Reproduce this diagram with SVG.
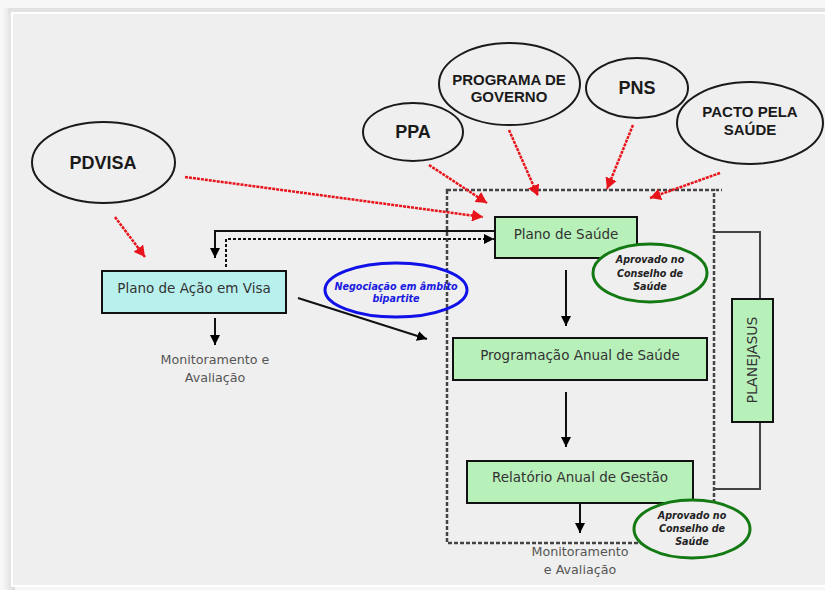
<svg xmlns="http://www.w3.org/2000/svg" width="825" height="590" viewBox="0 0 825 590">
<defs>
<marker id="ab" markerUnits="userSpaceOnUse" markerWidth="11" markerHeight="11" refX="10" refY="5" orient="auto"><path d="M0,0 L10,5 L0,10 z" fill="#000"/></marker>
<marker id="ar" markerUnits="userSpaceOnUse" markerWidth="12" markerHeight="12" refX="11" refY="6" orient="auto"><path d="M0,0 L11,6 L0,12 z" fill="#e8141b"/></marker>
<linearGradient id="sh" x1="0" y1="0" x2="1" y2="0"><stop offset="0" stop-color="#f6f6f6"/><stop offset="1" stop-color="#d8d8d8"/></linearGradient>
</defs>
<style>
.ell{fill:#efefef;stroke:#1a1a1a;stroke-width:2}
.et{font-family:"Liberation Sans",Arial,sans-serif;font-weight:bold;fill:#1a1a1a;text-anchor:middle}
.gbox{fill:#b8f0ba;stroke:#111;stroke-width:2}
.cbox{fill:#b8f0ee;stroke:#111;stroke-width:2}
.bt{font-family:"DejaVu Sans",Verdana,sans-serif;font-size:13.5px;fill:#333;text-anchor:middle}
.mt{font-family:"DejaVu Sans",Verdana,sans-serif;font-size:12.7px;fill:#555;text-anchor:middle}
.apr{fill:#efefef;stroke:#137a13;stroke-width:3}
.at{font-family:"DejaVu Sans",Verdana,sans-serif;font-size:9.6px;font-weight:bold;font-style:italic;fill:#222;text-anchor:middle}
.red{fill:none;stroke:#e8141b;stroke-width:2.5;stroke-dasharray:3 1;marker-end:url(#ar)}
.blk{fill:none;stroke:#111;stroke-width:2;marker-end:url(#ab)}
.gl{fill:none;stroke:#444;stroke-width:2}
</style>
<rect x="0" y="0" width="825" height="590" fill="#f7f7f7"/>
<rect x="3" y="8" width="12" height="582" fill="url(#sh)"/>
<rect x="8" y="8" width="830" height="6" fill="#e2e2e2"/>
<rect x="12" y="13" width="820" height="573" fill="#efefef" stroke="#ffffff" stroke-width="2"/>

<g id="dashed-frame">
<rect x="447" y="190" width="267" height="353" fill="none" stroke="#444" stroke-width="2.5" stroke-dasharray="4 2"/>
<line x1="716" y1="190" x2="722" y2="190" stroke="#444" stroke-width="2.5" stroke-dasharray="3 2"/>
</g>

<g id="connectors">
<line class="red" x1="115" y1="217" x2="145" y2="257"/>
<line class="red" x1="185" y1="177" x2="483" y2="217"/>
<line class="red" x1="429" y1="165" x2="487" y2="203"/>
<line class="red" x1="509" y1="130" x2="538" y2="196"/>
<line class="red" x1="633" y1="125" x2="607" y2="189"/>
<line class="red" x1="720" y1="173" x2="650" y2="198"/>
<polyline class="blk" points="495,231 215,231 215,258"/>
<polyline class="blk" points="226,267 226,239 494,239" stroke-dasharray="3 2"/>
<line class="blk" x1="298" y1="298" x2="427" y2="339"/>
<line class="blk" x1="215" y1="318" x2="215" y2="345"/>
<line class="blk" x1="566" y1="270" x2="566" y2="326"/>
<line class="blk" x1="566" y1="392" x2="566" y2="447"/>
<line class="blk" x1="580" y1="503" x2="580" y2="533" stroke-width="3"/>
<polyline class="gl" points="714,232 760,232 760,299"/>
<polyline class="gl" points="760,422 760,489 714,489"/>
</g>

<g id="pdvisa"><ellipse class="ell" cx="103.5" cy="162.5" rx="71.5" ry="40.5"/><text class="et" x="103" y="169" font-size="18">PDVISA</text></g>
<g id="ppa"><ellipse class="ell" cx="413" cy="132" rx="50" ry="29"/><text class="et" x="413" y="138" font-size="18">PPA</text></g>
<g id="programa-governo"><ellipse class="ell" cx="509.5" cy="84" rx="70.5" ry="41"/><text class="et" x="509" y="85" font-size="15">PROGRAMA DE</text><text class="et" x="509" y="102" font-size="15">GOVERNO</text></g>
<g id="pns"><ellipse class="ell" cx="637" cy="88" rx="51" ry="30"/><text class="et" x="637" y="94" font-size="18">PNS</text></g>
<g id="pacto"><ellipse class="ell" cx="750" cy="123" rx="73" ry="41"/><text class="et" x="750" y="117" font-size="15">PACTO PELA</text><text class="et" x="750" y="135" font-size="15">SAÚDE</text></g>

<g id="plano-acao-visa"><rect class="cbox" x="102" y="271" width="184" height="42"/><text class="bt" x="194" y="293">Plano de Ação em Visa</text></g>
<g id="monit-left"><text class="mt" x="215" y="364">Monitoramento e</text><text class="mt" x="215" y="382">Avaliação</text></g>

<g id="negociacao"><ellipse cx="396" cy="290" rx="71" ry="27" fill="none" stroke="#1010e8" stroke-width="3"/><text class="at" x="396" y="290" fill="#1a1ae0" style="fill:#1a1ae0">Negociação em âmbito</text><text class="at" x="396" y="302" style="fill:#1a1ae0">bipartite</text></g>

<g id="plano-saude"><rect class="gbox" x="495" y="217" width="142" height="41"/><text class="bt" x="566" y="239">Plano de Saúde</text></g>
<g id="aprovado-1"><ellipse class="apr" cx="650" cy="273" rx="57" ry="29"/><text class="at" x="650" y="263">Aprovado no</text><text class="at" x="650" y="277">Conselho de</text><text class="at" x="650" y="290">Saúde</text></g>
<g id="programacao"><rect class="gbox" x="453" y="338" width="254" height="42"/><text class="bt" x="580" y="360">Programação Anual de Saúde</text></g>
<g id="relatorio"><rect class="gbox" x="467" y="461" width="226" height="42"/><text class="bt" x="580" y="482">Relatório Anual de Gestão</text></g>
<g id="aprovado-2"><ellipse class="apr" cx="692" cy="529" rx="58" ry="29"/><text class="at" x="692" y="519">Aprovado no</text><text class="at" x="692" y="532">Conselho de</text><text class="at" x="692" y="545">Saúde</text></g>
<g id="monit-bottom"><text class="mt" x="580" y="556" font-size="12.5">Monitoramento</text><text class="mt" x="580" y="574" font-size="12.5">e Avaliação</text></g>
<g id="planejasus"><rect class="gbox" x="732" y="299" width="41" height="123"/><text class="bt" transform="translate(757,360) rotate(-90)" font-size="13" textLength="87" lengthAdjust="spacingAndGlyphs">PLANEJASUS</text></g>
</svg>
